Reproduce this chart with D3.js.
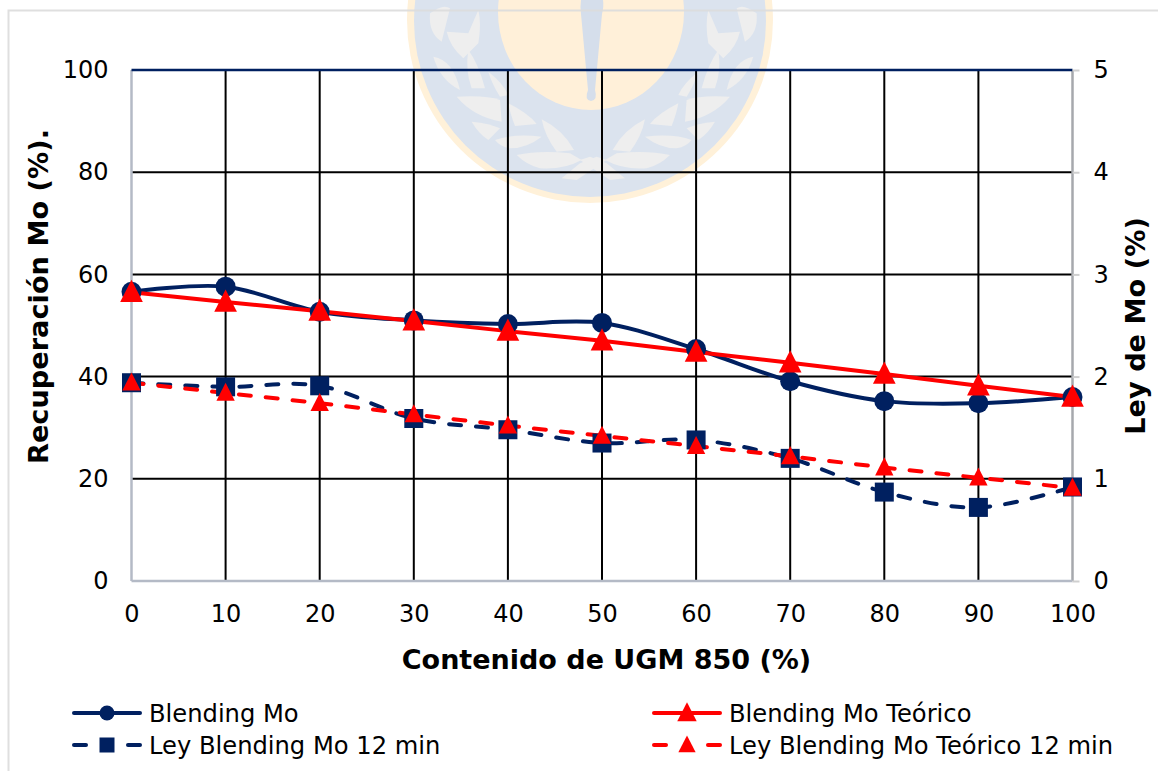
<!DOCTYPE html>
<html><head><meta charset="utf-8">
<script src="https://cdn.jsdelivr.net/npm/d3@7"></script>
<style>html,body{margin:0;padding:0;background:#fff}svg{display:block}text{font-family:"DejaVu Sans",sans-serif;fill:#000}</style>
</head><body><div id="chart"></div>
<script>
const contenido = [0,10,20,30,40,50,60,70,80,90,100];
const recuperacionTicks = [0,20,40,60,80,100];
const leyTicks = [0,1,2,3,4,5];
const blendingMo = [56.6,57.6,52.7,51.0,50.3,50.5,45.4,39.1,35.2,34.8,36.0];
const blendingMoTeorico = [56.5,54.6,52.8,50.9,48.9,47.0,44.8,42.7,40.5,38.2,36.0];
const leyBlending12 = [1.94,1.90,1.91,1.59,1.48,1.35,1.38,1.20,0.87,0.72,0.92];
const leyTeorico12 = [1.94,1.84,1.74,1.63,1.52,1.42,1.32,1.22,1.11,1.01,0.91];
const NAVY = "#002060", RED = "#ff0000", AXIS = "#b4bac6";

const svg = d3.select("#chart").append("svg").attr("width",1158).attr("height",771);
const x = d3.scaleLinear().domain([0,100]).range([131.5,1072.5]);
const yL = d3.scaleLinear().domain([0,100]).range([581,70]);
const yR = d3.scaleLinear().domain([0,5]).range([581,70]);

// watermark crest (decorative background)
const wm = svg.append("g");
wm.append("circle").attr("cx",590).attr("cy",20).attr("r",183).attr("fill","#fff1d9");
wm.append("circle").attr("cx",590).attr("cy",21).attr("r",176).attr("fill","#dbe3ee");
wm.append("ellipse").attr("cx",591).attr("cy",12).attr("rx",93).attr("ry",98).attr("fill","#fff0d9");
wm.append("path").attr("d","M581 0 L603 0 Q604 6 602 14 L595 90 Q598 100 591 101 Q584 100 588 90 L581 14 Q580 6 581 0 Z").attr("fill","#d5deeb");
const leafPaths = [
 "M90 40 Q130 10 150 25 L125 125 Q85 100 90 40",
 "M140 95 L205 100 L235 30 Q245 70 235 130 L190 175 Q150 140 140 95",
 "M100 170 Q160 180 180 270 Q120 240 100 170",
 "M205 150 Q235 190 255 265 L215 265 Q195 210 205 150",
 "M265 215 Q310 250 325 285 L300 290 Q275 250 265 215",
 "M170 290 Q260 285 300 300 L305 365 Q220 350 170 290",
 "M325 310 Q385 340 410 372 L345 378 Q330 340 325 310",
 "M215 365 Q270 370 300 385 L265 420 Q235 400 215 365",
 "M285 420 Q340 400 425 410 Q380 445 330 445 Q300 440 285 420",
 "M425 358 Q490 390 522 450 L470 455 Q435 410 425 358",
 "M350 465 Q420 450 510 460 L545 480 Q490 510 420 505 Q380 495 350 465",
 "M485 535 L540 490 L590 470 L620 480 L530 540 Z"
];
const leafG = wm.append("g").attr("transform","translate(400,0) scale(0.3333)");
leafG.selectAll("path.l").data(leafPaths).join("path").attr("class","l").attr("d",d=>d).attr("fill","#eeeeee");
leafG.append("g").attr("transform","translate(1160,0) scale(-1,1)")
  .selectAll("path").data(leafPaths).join("path").attr("d",d=>d).attr("fill","#eeeeee");

// outer chart frame
svg.append("path").attr("d","M8.5 771 V10.5 H1158").attr("fill","none").attr("stroke","#dcdcdc").attr("stroke-width",2).attr("opacity",0.9);

// grid
svg.append("g").selectAll("line").data(contenido.slice(1,-1)).join("line")
  .attr("x1",d=>x(d)).attr("x2",d=>x(d)).attr("y1",yL(100)).attr("y2",yL(0)).attr("stroke","#000").attr("stroke-width",2);
svg.append("g").selectAll("line").data(recuperacionTicks.slice(1,-1)).join("line")
  .attr("x1",x(0)).attr("x2",x(100)).attr("y1",d=>yL(d)).attr("y2",d=>yL(d)).attr("stroke","#000").attr("stroke-width",2);

// axes
const ax = g=>{g.select(".domain").remove();g.selectAll("text").style("font-size","24px").style("font-family",'"DejaVu Sans"');};
svg.append("line").attr("x1",x(0)).attr("x2",x(0)).attr("y1",yL(100)).attr("y2",yL(0)).attr("stroke",AXIS).attr("stroke-width",2.5);
svg.append("line").attr("x1",x(100)).attr("x2",x(100)).attr("y1",yL(100)).attr("y2",yL(0)).attr("stroke","#a6a8ad").attr("stroke-width",2.5);
svg.append("line").attr("x1",x(0)).attr("x2",x(100)).attr("y1",yL(0)).attr("y2",yL(0)).attr("stroke",AXIS).attr("stroke-width",2.5);
svg.append("line").attr("x1",x(0)).attr("x2",x(100)).attr("y1",yL(100)).attr("y2",yL(100)).attr("stroke",NAVY).attr("stroke-width",2.5);
svg.append("g").attr("transform",`translate(${x(0)},0)`)
  .call(d3.axisLeft(yL).tickValues(recuperacionTicks).tickSize(0).tickPadding(23)).call(ax);
svg.append("g").attr("transform",`translate(${x(100)},0)`)
  .call(d3.axisRight(yR).tickValues(leyTicks).tickFormat(d3.format("d")).tickSize(7).tickPadding(14)).call(ax)
  .selectAll("line").attr("stroke","#cfcfcf").attr("stroke-width",2);
svg.append("g").attr("transform",`translate(0,${yL(0)})`)
  .call(d3.axisBottom(x).tickValues(contenido).tickSize(0).tickPadding(24)).call(ax);

// titles
svg.append("text").attr("x",606.5).attr("y",669).attr("text-anchor","middle").attr("font-weight","bold").attr("font-size","27px").text("Contenido de UGM 850 (%)");
svg.append("text").attr("transform","translate(48,296.5) rotate(-90)").attr("text-anchor","middle").attr("font-weight","bold").attr("font-size","27.2px").text("Recuperación Mo (%).");
svg.append("text").attr("transform","translate(1145,326) rotate(-90)").attr("text-anchor","middle").attr("font-weight","bold").attr("font-size","27.2px").text("Ley de Mo (%)");

// series
const curve = d3.curveCatmullRom.alpha(0);
const triPts = s=>`0,${-s*0.6} ${s*0.54},${s*0.46} ${-s*0.54},${s*0.46}`;
const series = [
 {name:"Blending Mo",values:blendingMo,y:yL,color:NAVY,dash:null,smooth:true,marker:"circle",w:4,sz:20},
 {name:"Ley Blending Mo 12 min",values:leyBlending12,y:yR,color:NAVY,dash:"12 15",smooth:true,marker:"square",w:4,sz:19},
 {name:"Blending Mo Teórico",values:blendingMoTeorico,y:yL,color:RED,dash:null,smooth:false,marker:"triangle",w:4,sz:21},
 {name:"Ley Blending Mo Teórico 12 min",values:leyTeorico12,y:yR,color:RED,dash:"12 15",smooth:false,marker:"triangle",w:4,sz:17}
];
function marker(sel,type,s,color){
  if(type==="circle") sel.append("circle").attr("r",s/2).attr("fill",color);
  else if(type==="square") sel.append("rect").attr("x",-s/2).attr("y",-s/2).attr("width",s).attr("height",s).attr("fill",color);
  else sel.append("polygon").attr("points",triPts(s)).attr("fill",color);
}
series.forEach(s=>{
  const line = d3.line().x((d,i)=>x(contenido[i])).y(d=>s.y(d)).curve(s.smooth?curve:d3.curveLinear);
  svg.append("path").datum(s.values).attr("d",line).attr("fill","none").attr("stroke",s.color)
    .attr("stroke-width",s.w).attr("stroke-dasharray",s.dash).attr("stroke-linecap","round");
});
series.forEach(s=>{
  s.values.forEach((v,i)=>{
    const g = svg.append("g").attr("transform",`translate(${x(contenido[i])},${s.y(v)})`);
    marker(g,s.marker,s.sz,s.color);
  });
});

// legend
const legendPos = [[72,713],[72,745],[652,713],[652,745]];
series.forEach((s,i)=>{
  const [lx,ly] = legendPos[i];
  const g = svg.append("g").attr("transform",`translate(${lx},${ly})`);
  if(s.dash){
    g.append("line").attr("x1",2).attr("x2",14).attr("stroke",s.color).attr("stroke-width",4).attr("stroke-linecap","round");
    g.append("line").attr("x1",56).attr("x2",68).attr("stroke",s.color).attr("stroke-width",4).attr("stroke-linecap","round");
  } else {
    g.append("line").attr("x1",2).attr("x2",68).attr("stroke",s.color).attr("stroke-width",4).attr("stroke-linecap","round");
  }
  const m = g.append("g").attr("transform","translate(35,0)");
  marker(m,s.marker,s.marker==="triangle"?(s.dash?16:18):15,s.color);
  g.append("text").attr("x",77).attr("y",8.5).attr("font-size","24.2px").text(s.name);
});
</script></body></html>
